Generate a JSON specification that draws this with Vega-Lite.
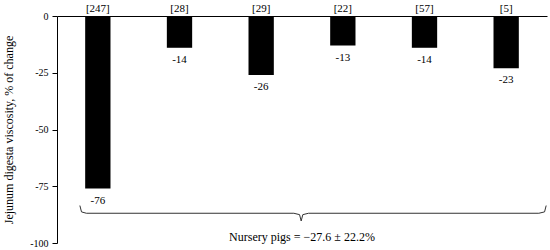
{
  "$schema": "https://vega.github.io/schema/vega-lite/v6.json",
  "autosize": {"type": "none"},
  "width": 490,
  "height": 227,
  "padding": {"left": 57, "top": 16, "right": 3, "bottom": 7},
  "config": {
    "view": {"stroke": null},
    "font": "Liberation Serif",
    "axis": {"labelFont": "Liberation Serif", "titleFont": "Liberation Serif", "grid": false}
  },
  "datasets": {
    "bars": [
      {"n": "[247]", "value": -76, "label": "-76"},
      {"n": "[28]", "value": -14, "label": "-14"},
      {"n": "[29]", "value": -26, "label": "-26"},
      {"n": "[22]", "value": -13, "label": "-13"},
      {"n": "[57]", "value": -14, "label": "-14"},
      {"n": "[5]", "value": -23, "label": "-23"}
    ],
    "brace": [
      {"px": 0.28, "py": -83.5, "o": 1},
      {"px": 0.3, "py": -86.3, "o": 2},
      {"px": 0.36, "py": -86.9, "o": 3},
      {"px": 2.9, "py": -86.9, "o": 4},
      {"px": 2.97, "py": -87.5, "o": 5},
      {"px": 2.99, "py": -90.3, "o": 6},
      {"px": 3.01, "py": -87.5, "o": 7},
      {"px": 3.08, "py": -86.9, "o": 8},
      {"px": 5.9, "py": -86.9, "o": 9},
      {"px": 5.97, "py": -86.3, "o": 10},
      {"px": 5.99, "py": -83.5, "o": 11}
    ],
    "note": [{"px": 3.0, "py": -97.5, "t": "Nursery pigs = −27.6 ± 22.2%"}]
  },
  "layer": [
    {
      "data": {"name": "bars"},
      "layer": [
        {
          "mark": {"type": "bar", "color": "black"},
          "encoding": {
            "x": {
              "field": "n", "type": "nominal", "sort": null,
              "scale": {"paddingInner": 0.69, "paddingOuter": 0.345},
              "axis": {"orient": "top", "title": null, "ticks": false, "labelAngle": 0, "labelPadding": 3, "labelFontSize": 11, "labelColor": "black", "domainColor": "black", "domainWidth": 1}
            },
            "y": {
              "field": "value", "type": "quantitative",
              "scale": {"domain": [-100, 0], "nice": false},
              "axis": {
                "title": "Jejunum digesta viscosity, % of change",
                "titleFontSize": 12, "titleFontWeight": "normal", "titleColor": "black", "titlePadding": 14,
                "values": [0, -12.5, -25, -37.5, -50, -62.5, -75, -87.5, -100],
                "labelExpr": "datum.value % 25 === 0 ? '' + datum.value : ''",
                "labelFontSize": 10, "labelColor": "black", "labelPadding": 4,
                "tickColor": "black", "tickSize": 5, "domainColor": "black"
              }
            }
          }
        },
        {
          "mark": {"type": "text", "baseline": "top", "dy": 6, "fontSize": 11, "color": "black"},
          "encoding": {
            "x": {"field": "n", "type": "nominal", "sort": null},
            "y": {"field": "value", "type": "quantitative"},
            "text": {"field": "label"}
          }
        }
      ]
    },
    {
      "data": {"name": "brace"},
      "mark": {"type": "line", "color": "#333", "strokeWidth": 1},
      "encoding": {
        "x": {"field": "px", "type": "quantitative", "scale": {"domain": [0, 6], "nice": false, "zero": false}, "axis": null},
        "y": {"field": "py", "type": "quantitative"},
        "order": {"field": "o"}
      }
    },
    {
      "data": {"name": "note"},
      "mark": {"type": "text", "fontSize": 12, "color": "black", "baseline": "middle"},
      "encoding": {
        "x": {"field": "px", "type": "quantitative", "scale": {"domain": [0, 6], "nice": false, "zero": false}, "axis": null},
        "y": {"field": "py", "type": "quantitative"},
        "text": {"field": "t"}
      }
    }
  ],
  "resolve": {"scale": {"x": "independent"}}
}
